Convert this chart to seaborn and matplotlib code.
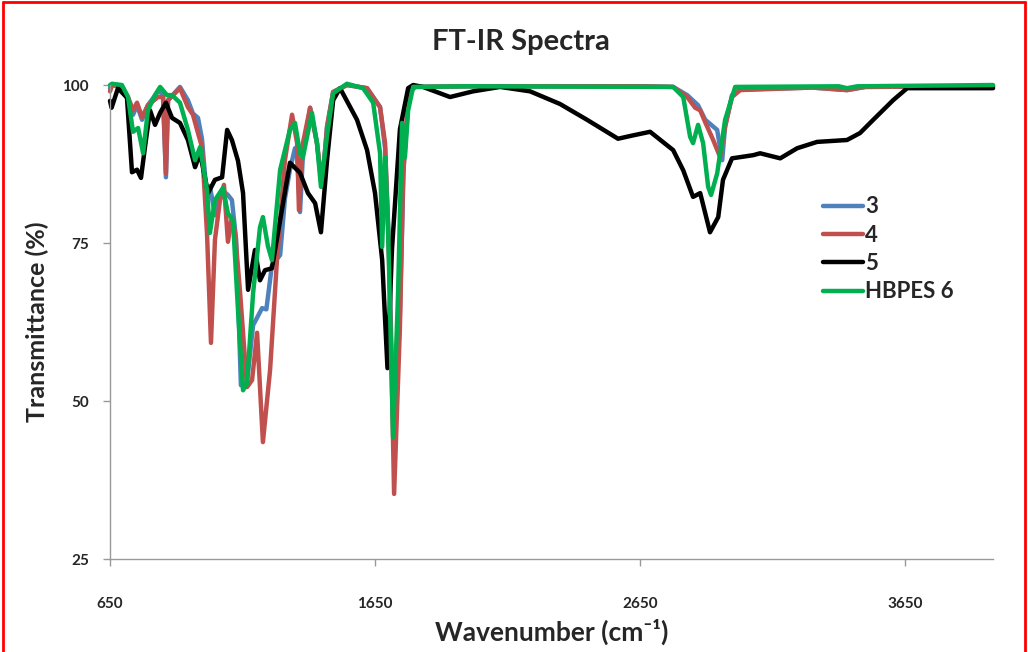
import matplotlib

matplotlib.use("Agg")
import matplotlib.pyplot as plt
import pandas as pd
import seaborn as sns
from matplotlib.lines import Line2D

wn_3 = [650, 658, 695, 718, 737, 752, 771, 793, 831, 850, 861, 869, 914, 944, 963, 982,
        997, 1016, 1027, 1046, 1073, 1095, 1110, 1126, 1144, 1167, 1190, 1224, 1240, 1261,
        1292, 1310, 1329, 1348, 1356, 1367, 1378, 1405, 1431, 1450, 1469, 1492, 1544, 1620,
        1669, 1688, 1703, 1718, 1722, 1744, 1758, 1778, 1801, 2000, 2650, 2775, 2828, 2869,
        2896, 2941, 2960, 2971, 2997, 3028, 3300, 3431, 3500, 3982]
tr_3 = [99.5, 100.0, 99.7, 97.6, 95.3, 96.8, 94.5, 96.8, 99.0, 98.6, 85.4, 97.6, 99.7, 97.6, 95.5, 94.8,
        91.5, 82.0, 84.0, 79.4, 83.4, 82.6, 81.8, 75.5, 52.5, 53.0, 62.0, 64.7, 64.5, 71.5,
        73.1, 82.0, 86.6, 90.0, 89.0, 79.9, 89.0, 96.4, 90.8, 83.9, 93.4, 98.9, 100.0, 99.5,
        96.5, 90.0, 74.0, 48.0, 42.0, 64.0, 87.0, 98.7, 99.7, 99.8, 99.8, 99.7, 98.4, 96.8,
        94.5, 92.9, 88.1, 93.5, 98.4, 99.3, 99.6, 99.2, 99.7, 99.8]

wn_4 = [650, 658, 695, 718, 737, 752, 771, 793, 831, 850, 861, 869, 888, 914, 944, 963,
        982, 997, 1016, 1031, 1046, 1065, 1080, 1095, 1110, 1122, 1141, 1167, 1186, 1205,
        1227, 1254, 1280, 1310, 1337, 1356, 1363, 1378, 1405, 1431, 1450, 1469, 1492, 1544,
        1620, 1669, 1688, 1703, 1714, 1722, 1744, 1756, 1775, 1801, 2000, 2650, 2775, 2828,
        2858, 2877, 2896, 2926, 2952, 2971, 2997, 3028, 3300, 3431, 3500, 3982]
tr_4 = [99.0, 100.0, 99.7, 98.1, 96.0, 97.2, 94.9, 96.8, 98.1, 98.1, 86.0, 97.6, 98.4, 99.5, 96.5, 95.3,
        92.4, 90.2, 76.6, 59.2, 75.5, 81.8, 84.2, 75.2, 79.1, 76.6, 67.1, 52.2, 53.3, 60.8,
        43.5, 54.9, 72.3, 88.1, 95.3, 90.8, 80.2, 90.8, 96.4, 90.8, 83.9, 93.4, 98.9, 100.0,
        99.5, 96.5, 90.8, 72.3, 52.0, 35.3, 61.7, 85.4, 98.7, 99.7, 99.8, 99.8, 99.7, 98.1,
        96.4, 96.0, 94.1, 91.3, 88.6, 93.4, 98.1, 99.2, 99.6, 99.2, 99.7, 99.8]

wn_5 = [650, 656, 680, 714, 733, 752, 767, 782, 801, 820, 839, 861, 884, 914, 944, 971,
        990, 1020, 1046, 1073, 1092, 1110, 1133, 1152, 1171, 1197, 1216, 1235, 1261, 1292,
        1329, 1367, 1397, 1424, 1446, 1469, 1492, 1518, 1582, 1620, 1650, 1677, 1697, 1714,
        1744, 1775, 1794, 1831, 1933, 2020, 2122, 2235, 2348, 2450, 2567, 2620, 2688, 2775,
        2813, 2850, 2877, 2914, 2945, 2963, 2997, 3077, 3103, 3179, 3243, 3318, 3431, 3480,
        3530, 3605, 3658, 3982]
tr_5 = [97.5, 96.4, 99.5, 98.0, 86.2, 86.6, 85.3, 90.2, 96.0, 93.7, 95.6, 97.2, 94.8, 94.0, 91.3, 87.0,
        89.2, 82.9, 85.0, 85.4, 92.9, 91.3, 88.0, 82.9, 67.6, 73.9, 69.1, 70.7, 71.0, 78.6,
        87.7, 86.1, 82.9, 81.3, 76.7, 88.1, 97.6, 99.5, 94.5, 89.7, 82.9, 72.3, 55.2, 74.0,
        93.0, 99.5, 100.0, 99.7, 98.1, 99.0, 99.7, 99.0, 97.0, 94.5, 91.5, 92.0, 92.6, 89.7,
        86.5, 82.3, 82.9, 76.7, 79.1, 85.0, 88.4, 88.9, 89.2, 88.4, 90.0, 91.0, 91.3, 92.4,
        94.5, 97.6, 99.5, 99.5]

wn_6 = [650, 658, 695, 718, 737, 756, 775, 793, 820, 839, 865, 884, 914, 944, 971, 990,
        1016, 1027, 1046, 1076, 1095, 1114, 1133, 1152, 1167, 1190, 1216, 1227, 1246, 1261,
        1292, 1329, 1348, 1367, 1378, 1412, 1431, 1446, 1469, 1492, 1544, 1605, 1643, 1669,
        1677, 1688, 1699, 1718, 1737, 1752, 1763, 1775, 1794, 2000, 2775, 2813, 2839, 2850,
        2869, 2888, 2907, 2918, 2941, 2971, 3009, 3400, 3431, 3470, 3982]
tr_6 = [100.0, 100.2, 100.0, 98.1, 92.6, 93.2, 89.2, 96.0, 98.4, 99.7, 98.4, 98.4, 97.2, 92.9, 88.1, 90.2,
        83.4, 76.6, 81.8, 83.7, 79.7, 78.6, 64.4, 51.7, 52.8, 67.1, 77.5, 79.1, 74.5, 72.3,
        86.6, 92.9, 94.0, 89.2, 88.6, 95.6, 90.8, 83.9, 92.0, 98.7, 100.2, 99.5, 97.2, 89.2,
        74.4, 88.6, 78.0, 44.3, 67.1, 94.0, 88.6, 96.0, 99.7, 99.8, 99.7, 98.1, 91.8, 90.8,
        93.7, 90.8, 83.9, 82.6, 86.0, 94.5, 99.7, 99.8, 99.5, 99.8, 100.0]

series_names = ["3", "4", "5", "HBPES 6"]
series_colors = ["#4F81BD", "#C0504D", "#000000", "#00B050"]
x_ticks = [650, 1650, 2650, 3650]
y_ticks = [25, 50, 75, 100]

frames = []
for name, wn, tr in zip(series_names, [wn_3, wn_4, wn_5, wn_6], [tr_3, tr_4, tr_5, tr_6]):
    frames.append(pd.DataFrame({"wavenumber": wn, "transmittance": tr, "sample": name}))
df = pd.concat(frames, ignore_index=True)

sns.set_theme(style="white")
plt.rcParams["font.family"] = ["Lato", "DejaVu Sans"]

fig = plt.figure(figsize=(10.28, 6.52), dpi=100)
ax = fig.add_axes([0.107, 0.1426, 0.859, 0.727])

sns.lineplot(
    data=df,
    x="wavenumber",
    y="transmittance",
    hue="sample",
    hue_order=series_names,
    palette=dict(zip(series_names, series_colors)),
    sort=False,
    estimator=None,
    linewidth=3.2,
    ax=ax,
)
for line in ax.lines:
    line.set_clip_on(False)

ax.set_xlim(650, 3982)
ax.set_ylim(25, 100)
ax.set_xticks(x_ticks)
ax.set_yticks(y_ticks)
ax.set_xticklabels([str(v) for v in x_ticks], fontweight="bold", fontsize=11)
ax.set_yticklabels([str(v) for v in y_ticks], fontweight="bold", fontsize=11)
ax.tick_params(axis="x", direction="out", length=5, width=1, color="#999999", pad=22, bottom=True)
ax.tick_params(axis="y", direction="out", length=5, width=1, color="#999999", pad=10, left=True)
for side in ["top", "right"]:
    ax.spines[side].set_visible(False)
for side in ["left", "bottom"]:
    ax.spines[side].set_color("#999999")
    ax.spines[side].set_linewidth(1)

ax.set_xlabel("Wavenumber (cm⁻¹)", fontsize=19, fontweight="bold", labelpad=6)
ax.set_ylabel("Transmittance (%)", fontsize=18, fontweight="bold", labelpad=10)
fig.text(0.507, 0.935, "FT-IR Spectra", ha="center", va="center", fontsize=21, fontweight="bold")

handles = [Line2D([0], [0], color=c, lw=3.2) for c in series_colors]
ax.legend(
    handles,
    series_names,
    loc="upper left",
    bbox_to_anchor=(0.797, 0.784),
    frameon=False,
    prop={"weight": "bold", "size": 16},
    handlelength=1.8,
    handletextpad=0.1,
    labelspacing=0.33,
    borderaxespad=0,
)

# red frame around the picture (left, top, right)
for xs, ys in [([0.003, 0.003], [0.0, 0.997]), ([0.003, 0.997], [0.997, 0.997]), ([0.997, 0.997], [0.0, 0.997])]:
    fig.add_artist(Line2D(xs, ys, transform=fig.transFigure, color="red", lw=2))

fig.savefig("out.png", dpi=100)
plt.close(fig)
